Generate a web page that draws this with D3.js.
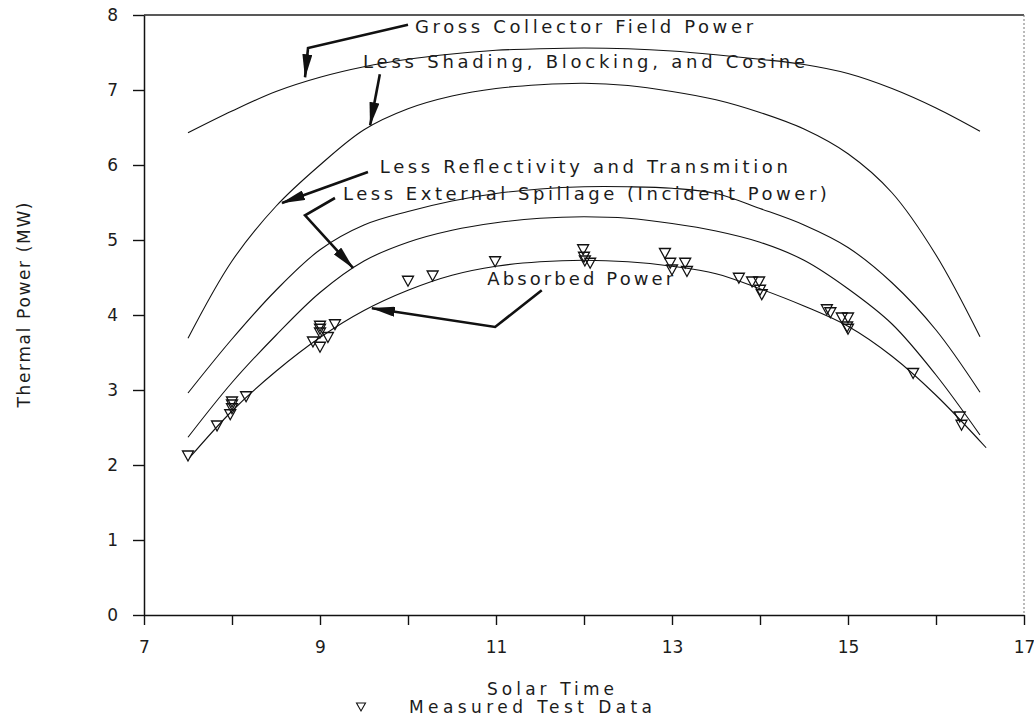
<!DOCTYPE html>
<html>
<head>
<meta charset="utf-8">
<script src="https://cdn.jsdelivr.net/npm/d3@7"></script>
<style>
body { margin: 0; background: #fff; }
svg text { font-family: "DejaVu Sans", sans-serif; fill: #1c1c1c; }
</style>
</head>
<body>
<svg id="grafica" width="1034" height="718"></svg>
<script>
// horas solares de las curvas calculadas
horas = [7.5, 8, 8.5, 9, 9.5, 10, 10.5, 11, 11.5, 12, 12.5, 13, 13.5, 14, 14.5, 15, 15.5, 16, 16.5]
horasAbs = [7.52, 8, 8.5, 9, 9.5, 10, 10.5, 11, 11.5, 12, 12.5, 13, 13.5, 14, 14.5, 15, 15.5, 16, 16.57]

// potencia termica (MW)
bruta = [6.43, 6.72, 6.98, 7.17, 7.31, 7.41, 7.48, 7.53, 7.55, 7.56, 7.55, 7.52, 7.47, 7.41, 7.34, 7.22, 7.02, 6.76, 6.45]
sombras = [3.69, 4.72, 5.45, 6.0, 6.47, 6.75, 6.92, 7.02, 7.07, 7.09, 7.06, 6.98, 6.87, 6.7, 6.48, 6.15, 5.63, 4.8, 3.71]
reflectividad = [2.96, 3.68, 4.33, 4.87, 5.2, 5.38, 5.52, 5.62, 5.68, 5.71, 5.71, 5.69, 5.62, 5.42, 5.2, 4.9, 4.43, 3.8, 2.97]
incidente = [2.37, 3.1, 3.73, 4.3, 4.72, 4.97, 5.13, 5.23, 5.29, 5.31, 5.29, 5.22, 5.12, 4.97, 4.73, 4.35, 3.88, 3.2, 2.4]
absorbida = [2.1, 2.72, 3.25, 3.7, 4.06, 4.33, 4.53, 4.65, 4.71, 4.73, 4.71, 4.65, 4.55, 4.35, 4.12, 3.85, 3.45, 2.93, 2.23]

// datos medidos
horasMedidas = [7.5, 7.83, 7.98, 8.0, 8.0, 8.0, 8.16, 8.92, 9.0, 9.0, 9.0, 9.0, 9.09, 9.17,
    10.0, 10.28, 10.99, 11.99, 12.0, 12.01, 12.07, 12.92, 12.98, 13.0, 13.15, 13.17,
    13.76, 13.91, 13.99, 14.0, 14.02, 14.76, 14.8, 14.93, 15.0, 14.99, 15.0, 15.74, 16.27, 16.29]
potenciaMedida = [2.12, 2.52, 2.67, 2.75, 2.8, 2.84, 2.91, 3.64, 3.57, 3.76, 3.81, 3.85, 3.7, 3.87,
    4.45, 4.52, 4.71, 4.87, 4.77, 4.72, 4.69, 4.82, 4.69, 4.6, 4.69, 4.58,
    4.49, 4.44, 4.44, 4.33, 4.27, 4.07, 4.03, 3.96, 3.96, 3.84, 3.81, 3.22, 2.64, 2.53]

ticksX = [7, 8, 9, 10, 11, 12, 13, 14, 15, 16, 17]
ticksY = [0, 1, 2, 3, 4, 5, 6, 7, 8]

etiquetas = ['Gross Collector Field Power',
    'Less Shading, Blocking, and Cosine',
    'Less Reflectivity and Transmition',
    'Less External Spillage (Incident Power)',
    'Absorbed Power']

function graficar() {
    svg = d3.select('#grafica')
    x = d3.scaleLinear().domain([7, 17]).range([144, 1024])
    y = d3.scaleLinear().domain([0, 8]).range([615, 15])

    svg.append('defs').append('marker')
        .attr('id', 'punta')
        .attr('markerUnits', 'userSpaceOnUse')
        .attr('markerWidth', 24)
        .attr('markerHeight', 10)
        .attr('refX', 23)
        .attr('refY', 5)
        .attr('orient', 'auto')
        .append('path')
        .attr('d', 'M0,0 L24,5 L0,10 Z')
        .attr('fill', '#111')

    // marco superior y derecho
    svg.append('line')
        .attr('x1', x(7)).attr('x2', x(17))
        .attr('y1', y(8)).attr('y2', y(8))
        .attr('stroke', '#222').attr('stroke-width', 1.4)
    svg.append('line')
        .attr('x1', x(17)).attr('x2', x(17))
        .attr('y1', y(8)).attr('y2', y(0))
        .attr('stroke', '#777').attr('stroke-width', 1)
        .attr('stroke-dasharray', '2,2')

    ejeX = d3.axisBottom(x)
        .tickValues(ticksX)
        .tickSizeInner(10).tickSizeOuter(0)
        .tickPadding(16)
        .tickFormat(function (d) { return d % 2 ? d : '' })
    ejeY = d3.axisLeft(y)
        .tickValues(ticksY)
        .tickSizeInner(11).tickSizeOuter(0)
        .tickPadding(15)

    gx = svg.append('g').attr('transform', 'translate(0,' + y(0) + ')').call(ejeX)
    gy = svg.append('g').attr('transform', 'translate(' + x(7) + ',0)').call(ejeY)
    svg.selectAll('.domain').attr('stroke', '#111').attr('stroke-width', 1.5)
    svg.selectAll('.tick line').attr('stroke', '#111').attr('stroke-width', 1.4)
    svg.selectAll('.tick text').attr('font-size', 17).attr('font-family', null)

    linea = d3.line()
        .x(function (d) { return x(d[0]) })
        .y(function (d) { return y(d[1]) })
        .curve(d3.curveCatmullRom)

    curvas = [d3.zip(horas, bruta), d3.zip(horas, sombras), d3.zip(horas, reflectividad),
        d3.zip(horas, incidente), d3.zip(horasAbs, absorbida)]

    svg.selectAll('path.curva')
        .data(curvas)
        .enter()
        .append('path')
        .attr('class', 'curva')
        .attr('d', linea)
        .attr('fill', 'none')
        .attr('stroke', '#111')
        .attr('stroke-width', 1.1)

    // etiquetas: [hora, potencia, largo del texto]
    posEtiquetas = [[10.08, 7.76, 338], [9.49, 7.29, 442], [9.68, 5.89, 408], [9.26, 5.53, 484], [10.9, 4.4, 186]]
    svg.selectAll('text.etiqueta')
        .data(etiquetas)
        .enter()
        .append('text')
        .attr('class', 'etiqueta')
        .attr('x', function (d, i) { return x(posEtiquetas[i][0]) })
        .attr('y', function (d, i) { return y(posEtiquetas[i][1]) })
        .attr('textLength', function (d, i) { return posEtiquetas[i][2] })
        .attr('font-size', 18)
        .text(function (d) { return d })

    flechas = [
        [[10.0, 7.87], [8.864, 7.56], [8.83, 7.17]],
        [[9.68, 7.21], [9.57, 6.53]],
        [[9.545, 5.907], [8.568, 5.493]],
        [[9.17, 5.56], [8.83, 5.33], [9.375, 4.627]],
        [[11.52, 4.33], [10.99, 3.84], [9.59, 4.09]]
    ]
    svg.selectAll('path.flecha')
        .data(flechas)
        .enter()
        .append('path')
        .attr('class', 'flecha')
        .attr('d', d3.line().x(function (d) { return x(d[0]) }).y(function (d) { return y(d[1]) }))
        .attr('fill', 'none')
        .attr('stroke', '#111')
        .attr('stroke-width', 2.6)
        .attr('marker-end', 'url(#punta)')

    triangulo = 'M-5.5,-5 L5.5,-5 L0,5 Z'
    svg.selectAll('path.medido')
        .data(d3.zip(horasMedidas, potenciaMedida))
        .enter()
        .append('path')
        .attr('class', 'medido')
        .attr('d', triangulo)
        .attr('transform', function (d) { return 'translate(' + x(d[0]) + ',' + y(d[1]) + ')' })
        .attr('fill', 'none')
        .attr('stroke', '#111')
        .attr('stroke-width', 1.3)

    // titulos y leyenda
    svg.append('text')
        .attr('transform', 'translate(30,305) rotate(-90)')
        .attr('text-anchor', 'middle')
        .attr('textLength', 205)
        .attr('font-size', 17)
        .text('Thermal Power (MW)')
    svg.append('text')
        .attr('x', 487).attr('y', 695)
        .attr('textLength', 127)
        .attr('font-size', 17)
        .text('Solar Time')
    svg.append('path')
        .attr('d', 'M-4.5,-4 L4.5,-4 L0,4 Z')
        .attr('transform', 'translate(361,707)')
        .attr('fill', 'none').attr('stroke', '#111').attr('stroke-width', 1.1)
    svg.append('text')
        .attr('x', 409).attr('y', 713)
        .attr('textLength', 243)
        .attr('font-size', 17)
        .text('Measured Test Data')
}
graficar()
</script>
</body>
</html>
